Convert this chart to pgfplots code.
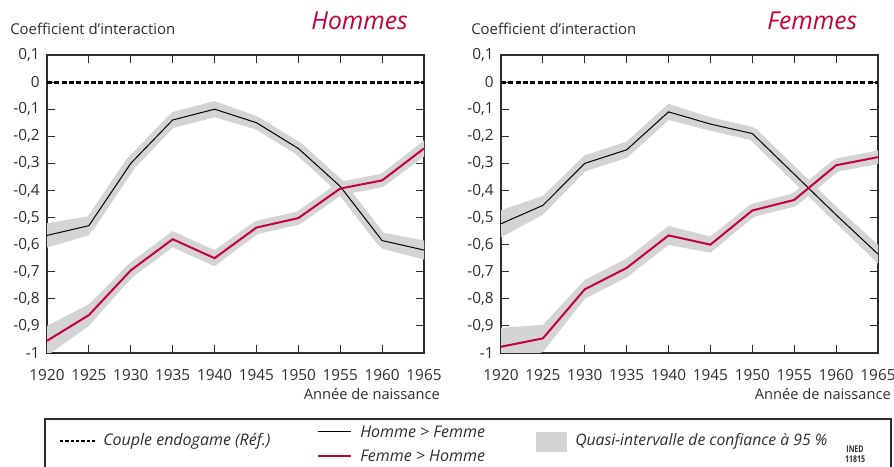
\documentclass[border=0pt]{standalone}
\usepackage{fontspec}
\setmainfont{Open Sans}
\usepackage{pgfplots}
\pgfplotsset{compat=1.18}
\definecolor{inedred}{RGB}{197,0,60}
\definecolor{band}{RGB}{212,212,214}
\definecolor{axisgray}{RGB}{45,45,45}
\newcommand{\PX}[2]{({#1*0.75pt},{(467-#2)*0.75pt})}
\pgfplotsset{
 myaxis/.style={
  scale only axis, width=282.75pt, height=223.5pt,
  xmin=1920, xmax=1965, ymin=-1, ymax=0.1,
  xtick={1920,1925,1930,1935,1940,1945,1950,1955,1960,1965},
  xticklabels={1920,1925,1930,1935,1940,1945,1950,1955,1960,1965},
  ytick={-1,-0.9,-0.8,-0.7,-0.6,-0.5,-0.4,-0.3,-0.2,-0.1,0,0.1},
  yticklabels={-1,{-0,9},{-0,8},{-0,7},{-0,6},{-0,5},{-0,4},{-0,3},{-0,2},{-0,1},0,{0,1}},
  tick align=inside, major tick length=6pt,
  tick style={axisgray, line width=0.75pt},
  axis line style={axisgray, line width=0.9pt},
  ticklabel style={font=\fontsize{11.5}{13}\selectfont, text=axisgray},
  xticklabel style={yshift=-9pt},
  yticklabel style={xshift=-2pt},
  clip=true,
 },
 bandline/.style={band, line width=9pt, line join=round, forget plot},
 bandfill/.style={fill=band, draw=none, forget plot},
}
\begin{document}
\begin{tikzpicture}
\useasboundingbox (0,0) rectangle (670.5pt,350.25pt);
% ---------- Hommes ----------
\begin{axis}[myaxis, at={(35.25pt,85.5pt)}, anchor=south west]
\addplot[bandline] coordinates {(1920,-0.566) (1925,-0.530) (1930,-0.300) (1935,-0.140) (1940,-0.100) (1945,-0.150) (1950,-0.245) (1955,-0.385) (1960,-0.585) (1965,-0.620)};
\addplot[bandfill] coordinates {(1920,-0.521) (1925,-0.495) (1930,-0.270) (1935,-0.110) (1940,-0.070) (1945,-0.125) (1950,-0.220) (1955,-0.360) (1960,-0.555) (1965,-0.585)
 (1965,-0.655) (1960,-0.615) (1955,-0.410) (1950,-0.270) (1945,-0.175) (1940,-0.130) (1935,-0.170) (1930,-0.330) (1925,-0.565) (1920,-0.611)};
\addplot[bandline] coordinates {(1920,-0.955) (1925,-0.860) (1930,-0.695) (1935,-0.580) (1940,-0.650) (1945,-0.537) (1950,-0.502) (1955,-0.393) (1960,-0.363) (1965,-0.245)};
\addplot[bandfill] coordinates {(1920,-0.900) (1925,-0.820) (1930,-0.665) (1935,-0.550) (1940,-0.620) (1945,-0.512) (1950,-0.477) (1955,-0.368) (1960,-0.338) (1965,-0.215)
 (1965,-0.275) (1960,-0.388) (1955,-0.418) (1950,-0.527) (1945,-0.562) (1940,-0.680) (1935,-0.610) (1930,-0.725) (1925,-0.900) (1920,-1.010)};
\addplot[black, line width=0.75pt] coordinates {(1920,-0.566) (1925,-0.530) (1930,-0.300) (1935,-0.140) (1940,-0.100) (1945,-0.150) (1950,-0.245) (1955,-0.385) (1960,-0.585) (1965,-0.620)};
\addplot[inedred, line width=1.5pt] coordinates {(1920,-0.955) (1925,-0.860) (1930,-0.695) (1935,-0.580) (1940,-0.650) (1945,-0.537) (1950,-0.502) (1955,-0.393) (1960,-0.363) (1965,-0.245)};
\addplot[black, line width=2.3pt, dash pattern=on 3.8pt off 1.7pt] coordinates {(1920,0) (1965,0)};
\end{axis}
% ---------- Femmes ----------
\begin{axis}[myaxis, at={(375.75pt,85.5pt)}, anchor=south west]
\addplot[bandline] coordinates {(1920,-0.523) (1925,-0.455) (1930,-0.300) (1935,-0.250) (1940,-0.110) (1945,-0.155) (1950,-0.190) (1955,-0.340) (1960,-0.490) (1965,-0.635)};
\addplot[bandfill] coordinates {(1920,-0.473) (1925,-0.420) (1930,-0.270) (1935,-0.220) (1940,-0.080) (1945,-0.130) (1950,-0.165) (1955,-0.315) (1960,-0.460) (1965,-0.600)
 (1965,-0.670) (1960,-0.520) (1955,-0.365) (1950,-0.215) (1945,-0.180) (1940,-0.140) (1935,-0.280) (1930,-0.330) (1925,-0.490) (1920,-0.573)};
\addplot[bandline] coordinates {(1920,-0.977) (1925,-0.946) (1930,-0.765) (1935,-0.686) (1940,-0.566) (1945,-0.600) (1950,-0.474) (1955,-0.435) (1960,-0.307) (1965,-0.277)};
\addplot[bandfill] coordinates {(1920,-0.907) (1925,-0.896) (1930,-0.730) (1935,-0.651) (1940,-0.531) (1945,-0.570) (1950,-0.449) (1955,-0.410) (1960,-0.282) (1965,-0.252)
 (1965,-0.302) (1960,-0.332) (1955,-0.460) (1950,-0.499) (1945,-0.630) (1940,-0.601) (1935,-0.721) (1930,-0.800) (1925,-0.996) (1920,-1.047)};
\addplot[black, line width=0.75pt] coordinates {(1920,-0.523) (1925,-0.455) (1930,-0.300) (1935,-0.250) (1940,-0.110) (1945,-0.155) (1950,-0.190) (1955,-0.340) (1960,-0.490) (1965,-0.635)};
\addplot[inedred, line width=1.5pt] coordinates {(1920,-0.977) (1925,-0.946) (1930,-0.765) (1935,-0.686) (1940,-0.566) (1945,-0.600) (1950,-0.474) (1955,-0.435) (1960,-0.307) (1965,-0.277)};
\addplot[black, line width=2.3pt, dash pattern=on 3.8pt off 1.7pt] coordinates {(1920,0) (1965,0)};
\end{axis}
% ---------- titles ----------
\node[anchor=base west, inner sep=0pt, font=\fontsize{11.2}{13}\selectfont, text=axisgray] at \PX{10}{35} {Coefficient d’interaction};
\node[anchor=base west, inner sep=0pt, font=\fontsize{11.2}{13}\selectfont, text=axisgray] at \PX{471}{35} {Coefficient d’interaction};
\node[anchor=base west, inner sep=0pt, font=\fontsize{18.5}{20}\selectfont\itshape, text=inedred] at \PX{311}{30} {Hommes};
\node[anchor=base west, inner sep=0pt, font=\fontsize{18.5}{20}\selectfont\itshape, text=inedred] at \PX{767}{30} {Femmes};
\node[anchor=base east, inner sep=0pt, font=\fontsize{11}{13}\selectfont, text=axisgray] at \PX{440}{400} {Année de naissance};
\node[anchor=base east, inner sep=0pt, font=\fontsize{11}{13}\selectfont, text=axisgray] at \PX{891}{400} {Année de naissance};
% ---------- legend ----------
\draw[axisgray, line width=0.9pt] \PX{45}{480} -- \PX{45}{419} -- \PX{891}{419} -- \PX{891}{480};
\draw[black, line width=2.2pt, dash pattern=on 2.6pt off 1.4pt] \PX{60}{441} -- \PX{97}{441};
\node[anchor=west, inner sep=0pt, font=\fontsize{12}{13}\selectfont\itshape, text=axisgray] at \PX{103}{441} {Couple endogame (Réf.)};
\draw[black, line width=0.75pt] \PX{318}{432} -- \PX{351}{432};
\node[anchor=west, inner sep=0pt, font=\fontsize{12}{13}\selectfont\itshape, text=axisgray] at \PX{360}{432} {Homme > Femme};
\draw[inedred, line width=1.5pt] \PX{318}{456} -- \PX{351}{456};
\node[anchor=west, inner sep=0pt, font=\fontsize{12}{13}\selectfont\itshape, text=axisgray] at \PX{360}{456} {Femme > Homme};
\fill[band] \PX{536}{432} rectangle \PX{567}{452};
\node[anchor=west, inner sep=0pt, font=\fontsize{11.8}{13}\selectfont\itshape, text=axisgray] at \PX{575}{441} {Quasi-intervalle de confiance à 95 \%};
\node[anchor=north, inner sep=0pt, align=center, font=\fontsize{7}{7.2}\selectfont\bfseries, text=axisgray] at \PX{855}{446} {\scalebox{0.75}[1]{INED}\\\scalebox{0.75}[1]{11815}};
\end{tikzpicture}
\end{document}
